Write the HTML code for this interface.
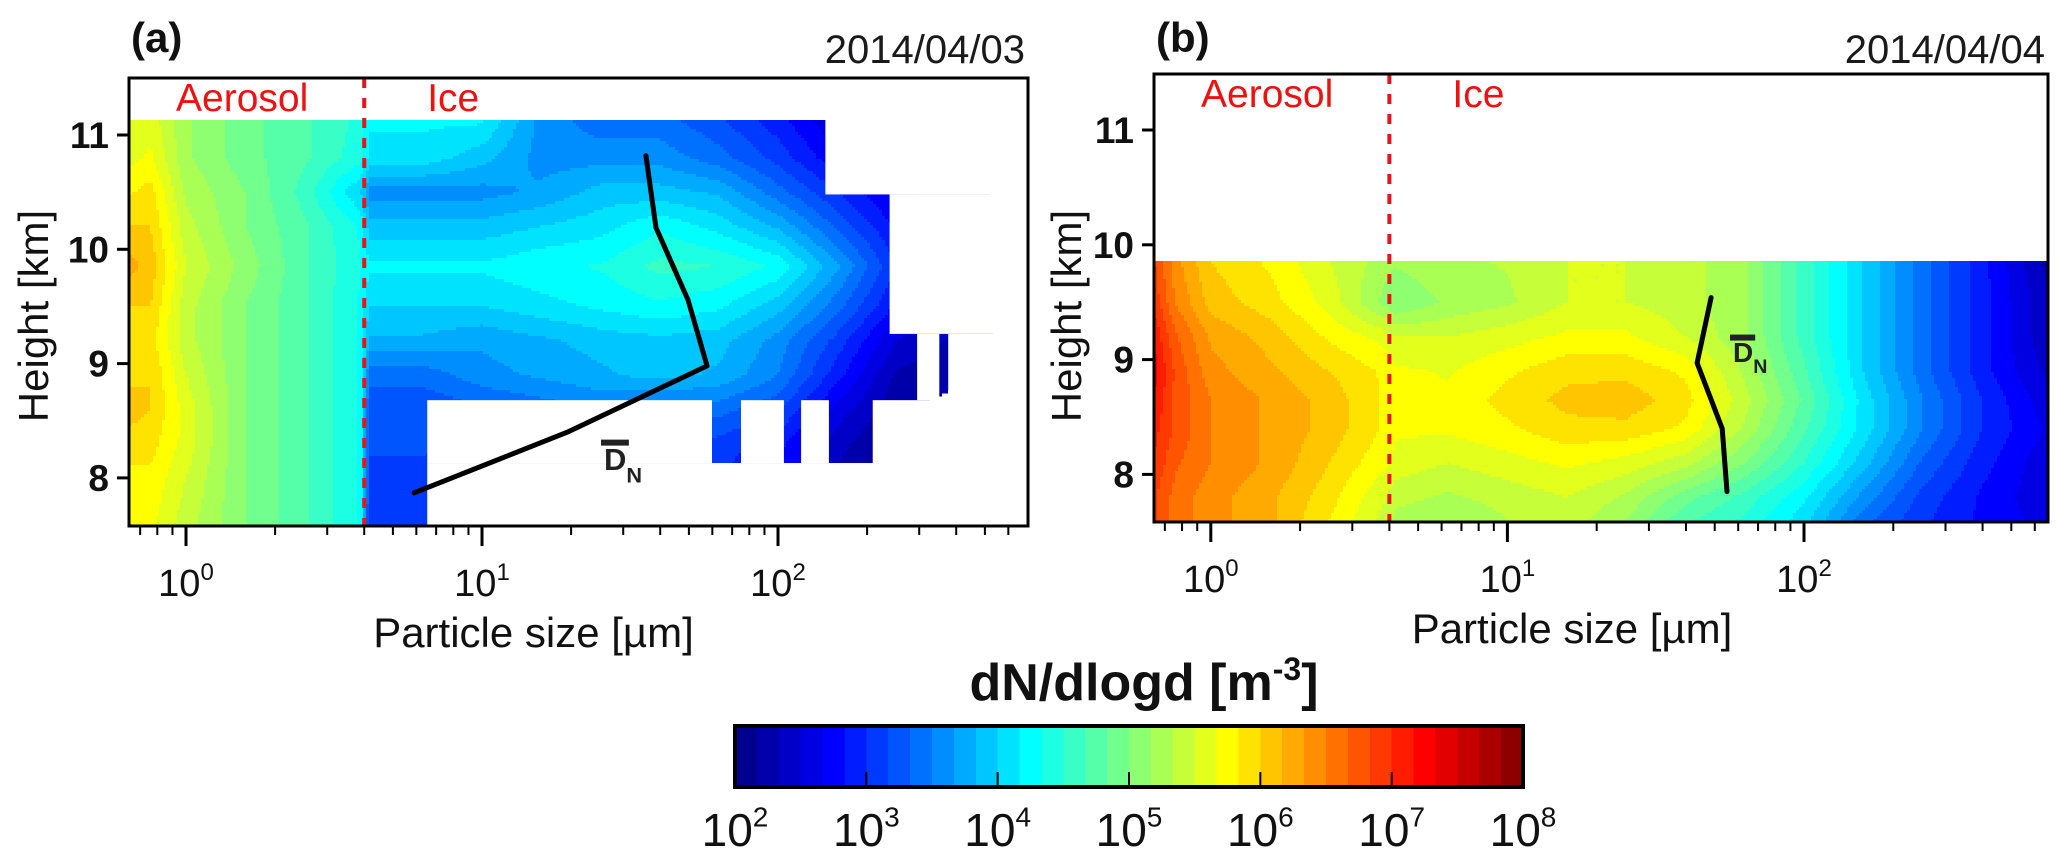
<!DOCTYPE html>
<html><head><meta charset="utf-8"><style>
html,body{margin:0;padding:0;background:#fff;}
svg{display:block;font-family:"Liberation Sans",Arial,sans-serif;}
</style></head><body>
<svg id="fig" width="2067" height="868" viewBox="0 0 2067 868" xmlns="http://www.w3.org/2000/svg">
<g id="panelA"></g>
<g id="panelB"></g>
<g id="cbar"></g>
</svg>
<script>
// ---------- data ----------
const sizeLogCols = [-0.2,-0.12,0,0.2,0.4,0.59,0.62,0.8,1.0,1.2,1.4,1.6,1.8,2.0,2.2,2.4,2.6,2.85];
const heightsA = [11.13,10.8,10.5,10.2,9.85,9.5,9.2,8.9,8.6,8.3,8.0,7.55];
const valuesA = [
 [5.5,5.6,5.2,4.9,4.7,4.45,4.2,4.2,4.2,3.6,3.4,3.4,3.2,2.9,2.5,2.2,2.1,2.0],
 [5.6,5.7,5.2,4.9,4.7,4.4,4.1,4.1,3.9,3.6,3.6,3.6,3.4,3.1,2.7,2.4,2.2,2.0],
 [5.8,5.9,5.3,5.0,4.6,4.0,3.6,3.6,3.6,3.7,3.9,3.9,3.8,3.4,3.0,2.6,2.3,2.0],
 [6.0,6.0,5.4,5.0,4.7,4.3,3.9,3.9,3.9,4.0,4.1,4.3,4.1,3.8,3.3,2.8,2.4,2.1],
 [6.25,6.1,5.5,5.1,4.7,4.35,4.2,4.2,4.2,4.3,4.35,4.55,4.5,4.3,3.7,3.0,2.5,2.1],
 [6.0,6.0,5.4,5.0,4.7,4.3,4.0,4.0,4.0,4.1,4.2,4.3,4.2,3.9,3.4,2.8,2.4,2.1],
 [5.9,5.9,5.4,5.0,4.7,4.3,3.8,3.8,3.7,3.8,3.9,3.95,3.9,3.6,3.1,2.5,2.3,2.0],
 [5.95,6.0,5.5,5.0,4.7,4.3,3.4,3.4,3.6,3.7,3.8,3.9,3.8,3.5,2.9,2.3,2.2,2.0],
 [6.1,6.0,5.6,5.0,4.7,4.3,3.2,3.2,3.3,3.4,3.5,3.4,3.4,3.2,2.6,2.2,2.1,2.0],
 [5.9,5.9,5.6,5.0,4.7,4.3,3.2,3.2,3.2,3.2,3.2,3.3,3.1,2.9,2.4,2.1,2.0,2.0],
 [5.8,5.8,5.5,5.0,4.7,4.3,3.1,3.1,3.0,3.0,3.0,3.0,3.0,2.8,2.3,2.1,2.0,2.0],
 [5.7,5.7,5.4,5.0,4.7,4.3,3.0,3.0,2.9,2.9,2.9,2.9,2.9,2.7,2.2,2.0,2.0,2.0]
];
// blank (no data) regions in panel a: [logMin, logMax, hMin, hMax]
const blanksA = [
 [2.16,3.0,10.48,11.6],[2.377,3.0,9.26,10.48],[2.47,2.545,8.68,9.26],[2.575,3.0,8.68,9.26],
 [0.815,1.777,8.13,8.68],[1.875,2.02,8.13,8.68],[2.078,2.172,8.13,8.68],[2.32,3.0,8.13,8.68],
 [0.815,3.0,7.4,8.13]
];
const heightsB = [9.86,9.5,9.2,8.9,8.65,8.4,8.1,7.8,7.5];
const valuesB = [
 [6.9,6.4,6.0,5.8,5.5,5.25,5.2,5.3,5.35,5.5,5.5,5.4,5.2,4.6,4.0,3.4,2.9,2.2],
 [7.0,6.5,6.1,5.9,5.6,5.1,5.0,5.2,5.3,5.5,5.5,5.4,5.2,4.6,4.0,3.4,2.9,2.3],
 [7.2,6.7,6.3,6.1,5.8,5.6,5.5,5.5,5.6,5.7,5.7,5.5,5.2,4.6,4.0,3.4,2.9,2.3],
 [7.3,6.8,6.4,6.2,6.0,5.8,5.7,5.65,5.8,5.95,5.95,5.8,5.3,4.7,4.0,3.4,2.9,2.4],
 [7.2,6.8,6.5,6.3,6.1,5.8,5.75,5.7,5.9,6.05,6.1,5.9,5.4,4.8,4.1,3.5,3.0,2.5],
 [7.1,6.8,6.5,6.3,6.1,5.8,5.7,5.7,5.8,5.95,5.95,5.8,5.3,4.7,4.1,3.5,3.0,2.6],
 [7.0,6.7,6.5,6.3,6.0,5.7,5.6,5.5,5.6,5.7,5.6,5.4,5.0,4.5,3.9,3.3,2.9,2.5],
 [6.9,6.6,6.4,6.2,5.9,5.5,5.4,5.3,5.4,5.5,5.3,4.9,4.6,4.2,3.6,3.1,2.8,2.5],
 [6.9,6.6,6.4,6.2,5.8,5.4,5.2,5.1,5.3,5.4,5.1,4.6,4.4,4.0,3.3,3.0,2.8,2.6]
];
const blanksB = [];
const dnSizeA = [35.8,38.7,49.6,57.6,19.4,5.9];
const dnHeightA = [10.82,10.19,9.56,8.98,8.40,7.87];
const dnSizeB = [48.6,43.6,53,55];
const dnHeightB = [9.54,8.97,8.40,7.85];
const yTicks = [8,9,10,11];
const xDecades = [0,1,2];
const cbarDecades = [2,3,4,5,6,7,8];
const NLEV = 36, VMIN = 2, VMAX = 8;

const NS = "http://www.w3.org/2000/svg";
function mk(tag, attrs, parent){const e=document.createElementNS(NS,tag);for(const k in attrs)e.setAttribute(k,attrs[k]);parent.appendChild(e);return e;}
function jet(t){const c=v=>Math.max(0,Math.min(1,v));
 const r=c(Math.min(4*t-1.5,-4*t+4.5)),g=c(Math.min(4*t-0.5,-4*t+3.5)),b=c(Math.min(4*t+0.5,-4*t+2.5));
 return `rgb(${Math.round(r*255)},${Math.round(g*255)},${Math.round(b*255)})`;}
function levelColor(k){return jet((k+0.5)/NLEV);}
function levelOf(v){return Math.max(0,Math.min(NLEV-1,Math.floor((v-VMIN)/(VMAX-VMIN)*NLEV)));}
function interp(cols,rows,vals,l,h){
 let i=0; if(l<=cols[0]){i=0;l=cols[0];} else if(l>=cols[cols.length-1]){i=cols.length-2;l=cols[cols.length-1];} else {while(cols[i+1]<l)i++;}
 let j=0; if(h>=rows[0]){j=0;h=rows[0];} else if(h<=rows[rows.length-1]){j=rows.length-2;h=rows[rows.length-1];} else {while(rows[j+1]>h)j++;}
 const fx=(l-cols[i])/(cols[i+1]-cols[i]), fy=(rows[j]-h)/(rows[j]-rows[j+1]);
 const a=vals[j][i],b=vals[j][i+1],c=vals[j+1][i],d=vals[j+1][i+1];
 return a*(1-fx)*(1-fy)+b*fx*(1-fy)+c*(1-fx)*fy+d*fx*fy;
}
function supText(parent,x,y,base,sup,size,supSize,anchor,weight,name){
 const t=mk('text',{x:x,y:y,'font-size':size,'text-anchor':anchor||'middle','font-weight':weight||'normal',fill:'#111'},parent);
 
 
 const s1=mk('tspan',{},t); s1.textContent=base;
 const s2=mk('tspan',{dy:-size*0.42,'font-size':supSize},t); s2.textContent=sup;
 return t;
}

function drawPanel(P){
 const g=document.getElementById(P.id);
 const X=l=>P.x0+l*P.dec, Y=h=>P.y11+(11-h)*P.km;
 const inv=px=>(px-P.x0)/P.dec, invY=py=>11-(py-P.y11)/P.km;
 // field
 const field=mk('g',{'shape-rendering':'crispEdges'},g);
 
 
 const top=Y(P.rows[0]), step=3;
 for(let py=top; py<P.bottom; py+=step){
  const h=invY(py+step/2); let runStart=P.left, runLev=-1;
  for(let px=P.left; px<=P.right; px+=step){
   const lev = px<P.right ? levelOf(interp(sizeLogCols,P.rows,P.vals,inv(px+step/2),h)) : -2;
   if(lev!==runLev){
    if(runLev>=0){const r=mk('rect',{x:runStart,y:py,width:Math.min(px,P.right)-runStart,height:Math.min(step+0.6,P.bottom-py),fill:levelColor(runLev)},field);
     
     }
    runStart=px; runLev=lev;
   }
  }
 }
 // blank regions
 P.blanks.forEach(bk=>{
  const x1=Math.max(P.left,X(bk[0])), x2=Math.min(P.right,X(bk[1]));
  const y1=Math.max(P.top,Y(bk[3])), y2=Math.min(P.bottom,Y(bk[2]));
  const r=mk('rect',{x:x1,y:y1,width:x2-x1,height:y2-y1,fill:'#fff'},g);
  
  
 });
 // dashed boundary at 4 um
 const dl=mk('line',{x1:X(Math.log10(4)),x2:X(Math.log10(4)),y1:P.top,y2:P.bottom,stroke:'#e8141c','stroke-width':4,'stroke-dasharray':'10 10'},g);
 
 
 // DN line
 const pts=P.dnS.map((s,i)=>X(Math.log10(s)).toFixed(1)+','+Y(P.dnH[i]).toFixed(1)).join(' ');
 const pl=mk('polyline',{points:pts,fill:'none',stroke:'#000','stroke-width':5,'stroke-linejoin':'round','stroke-linecap':'round'},g);
 
 
 // DN label
 const dg=mk('g',{},g);
 
 
 mk('rect',{x:P.dnLab[0]-3,y:P.dnLab[1]-P.dnLab[2]*0.98,width:P.dnLab[2]*0.9,height:6,fill:'#222'},dg);
 const dt=mk('text',{x:P.dnLab[0],y:P.dnLab[1],'font-size':P.dnLab[2],'font-weight':'bold',fill:'#222'},dg);
 const d1=mk('tspan',{},dt); d1.textContent='D';
 const d2=mk('tspan',{dy:P.dnLab[2]*0.4,'font-size':P.dnLab[2]*0.7},dt); d2.textContent='N';
 // frame
 const fr=mk('rect',{x:P.left,y:P.top,width:P.right-P.left,height:P.bottom-P.top,fill:'none',stroke:'#000','stroke-width':3},g);
 
 
 // y ticks
 yTicks.forEach(v=>{
  const t=mk('line',{x1:P.left-12,x2:P.left,y1:Y(v),y2:Y(v),stroke:'#000','stroke-width':3},g);
  
  
  const lb=mk('text',{x:P.left-20,y:Y(v)+13,'font-size':37,'font-weight':'bold','text-anchor':'end',fill:'#111'},g);
  
  
  lb.textContent=String(v);
 });
 // x ticks
 for(let d=-1; d<=2; d++){
  for(let m=1;m<=9;m++){
   const l=d+Math.log10(m), px=X(l);
   if(px<P.left+2||px>P.right-2)continue;
   const t=mk('line',{x1:px,x2:px,y1:P.bottom,y2:P.bottom+(m===1?20:9),stroke:'#000','stroke-width':m===1?3:2},g);
   
   
  }
 }
 xDecades.forEach(d=>{
  supText(g,X(d),P.bottom+70,'10',String(d),38,24,'middle','normal','x-tick-label');
 });
 // axis titles
 const xt=mk('text',{x:(P.left+P.right)/2+P.xtOff,y:P.bottom+121,'font-size':42,'text-anchor':'middle',fill:'#111'},g);
 
 
 xt.textContent='Particle size [\u00b5m]';
 const yt=mk('text',{x:0,y:0,'font-size':42,'text-anchor':'middle',fill:'#111',transform:`translate(${P.ytX},316) rotate(-90)`},g);
 
 
 yt.textContent='Height [km]';
 // labels
 const pa=mk('text',{x:P.left+2,y:52,'font-size':42,'font-weight':'bold',fill:'#111'},g);
 
 
 pa.textContent=P.label;
 const dtx=mk('text',{x:P.right-3,y:63,'font-size':40,'text-anchor':'end',fill:'#1a1a1a'},g);
 
 
 dtx.textContent=P.date;
 const ae=mk('text',{x:P.left+47,y:P.top+33,'font-size':39,fill:'#ee1111'},g);
 
 
 ae.textContent='Aerosol';
 const ic=mk('text',{x:X(Math.log10(4))+63,y:P.top+33,'font-size':39,fill:'#ee1111'},g);
 
 
 ic.textContent='Ice';
}

drawPanel({id:'panelA',x0:186,dec:296,y11:135,km:114.3,left:129,right:1028,top:78,bottom:526,
 rows:heightsA,vals:valuesA,blanks:blanksA,dnS:dnSizeA,dnH:dnHeightA,dnLab:[604,470,31],
 label:'(a)',date:'2014/04/03',ytX:48,xtOff:-45});
drawPanel({id:'panelB',x0:1210.8,dec:296.6,y11:130,km:114.8,left:1154,right:2048,top:74,bottom:522,
 rows:heightsB,vals:valuesB,blanks:blanksB,dnS:dnSizeB,dnH:dnHeightB,dnLab:[1733,362,28],
 label:'(b)',date:'2014/04/04',ytX:1081,xtOff:-29});

// colorbar
(function(){
 const g=document.getElementById('cbar');
 const L=735,R=1523,T=726,B=787;
 const CX=v=>L+(v-VMIN)/(VMAX-VMIN)*(R-L);
 for(let k=0;k<NLEV;k++){
  const v0=VMIN+k*(VMAX-VMIN)/NLEV, v1=VMIN+(k+1)*(VMAX-VMIN)/NLEV;
  const r=mk('rect',{x:CX(v0),y:T,width:CX(v1)-CX(v0)+0.6,height:B-T,fill:levelColor(k),'shape-rendering':'crispEdges'},g);
  
  
 }
 const fr=mk('rect',{x:L,y:T,width:R-L,height:B-T,fill:'none',stroke:'#000','stroke-width':4},g);
 
 
 cbarDecades.forEach(d=>{
  if(d>VMIN&&d<VMAX){const t=mk('line',{x1:CX(d),x2:CX(d),y1:B,y2:B-15,stroke:'#000','stroke-width':2},g);
   
   }
  supText(g,CX(d),846,'10',String(d),46,28,'middle','normal','colorbar-tick-label');
 });
 const tt=mk('text',{x:1144,y:700,'font-size':52,'font-weight':'bold','text-anchor':'middle',fill:'#111'},g);
 
 
 const a=mk('tspan',{},tt); a.textContent='dN/dlogd [m';
 const b=mk('tspan',{dy:-20,'font-size':32},tt); b.textContent='-3';
 const c=mk('tspan',{dy:20},tt); c.textContent=']';
})();
</script>
</body></html>
